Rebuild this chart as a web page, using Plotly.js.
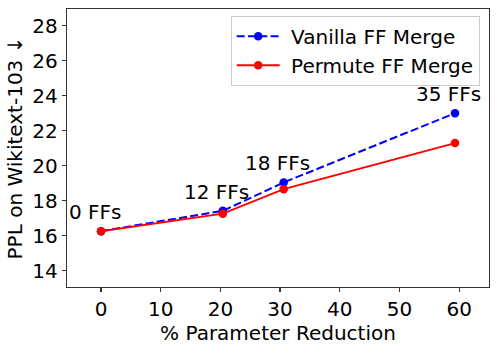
<!DOCTYPE html>
<html>
<head>
<meta charset="utf-8">
<script src="https://cdn.plot.ly/plotly-3.0.1.min.js"></script>
<style>html,body{margin:0;padding:0;background:#fff;}#chart{width:498px;height:350px;}</style>
</head>
<body>
<div id="chart"></div>
<script>
const paramReduction = [0, 20.4, 30.6, 59.3];
const vanillaPPL = [16.26, 17.42, 19.04, 23.0];
const permutePPL = [16.26, 17.26, 18.66, 21.29];
const ffLabels = ['0 FFs', '12 FFs', '18 FFs', '35 FFs'];
const seriesNames = ['Vanilla FF Merge', 'Permute FF Merge'];
const xTicks = [0, 10, 20, 30, 40, 50, 60];
const yTicks = [14, 16, 18, 20, 22, 24, 26, 28];

const font = 'DejaVu Sans, sans-serif';
const fs = 20;

const traces = [
  {x: paramReduction, y: vanillaPPL, name: '\u00A0' + seriesNames[0], mode: 'lines+markers', type: 'scatter',
   line: {color: '#0000ff', width: 2, dash: '8px,3.3px'}, marker: {color: '#0000ff', size: 8.5}},
  {x: paramReduction, y: permutePPL, name: '\u00A0' + seriesNames[1], mode: 'lines+markers', type: 'scatter',
   line: {color: '#ff0000', width: 2}, marker: {color: '#ff0000', size: 8.5}}
];

const annotations = ffLabels.map((t, i) => ({
  x: paramReduction[i], y: vanillaPPL[i], xref: 'x', yref: 'y', text: t, showarrow: false,
  xanchor: 'center', yanchor: 'middle', xshift: -6, yshift: 19,
  font: {family: font, size: fs, color: '#000'}
}));

const axisCommon = {
  showgrid: false, zeroline: false, showline: true, mirror: true, linecolor: '#333', linewidth: 1.2,
  ticks: 'outside', ticklen: 4, tickwidth: 1.2, tickcolor: '#333',
  tickfont: {family: font, size: fs, color: '#000'}
};

const layout = {
  width: 498, height: 350,
  margin: {l: 67, r: 9, t: 9, b: 63},
  paper_bgcolor: '#fff', plot_bgcolor: '#fff',
  showlegend: true,
  legend: {x: 0.978, y: 0.976, xanchor: 'right', yanchor: 'top',
    bordercolor: '#cccccc', borderwidth: 1, bgcolor: 'rgba(255,255,255,0.8)',
    font: {family: font, size: fs, color: '#000'}, itemwidth: 43, tracegroupgap: 0},
  xaxis: Object.assign({}, axisCommon, {range: [-5.7, 65], tickvals: xTicks,
    title: {text: '% Parameter Reduction', font: {family: font, size: fs, color: '#000'}, standoff: 4}}),
  yaxis: Object.assign({}, axisCommon, {range: [13.07, 28.95], tickvals: yTicks,
    title: {text: 'PPL on Wikitext-103 ↓', font: {family: font, size: fs, color: '#000'}, standoff: 4}}),
  annotations: annotations
};

Plotly.newPlot('chart', traces, layout, {displayModeBar: false, staticPlot: true});
</script>
</body>
</html>
